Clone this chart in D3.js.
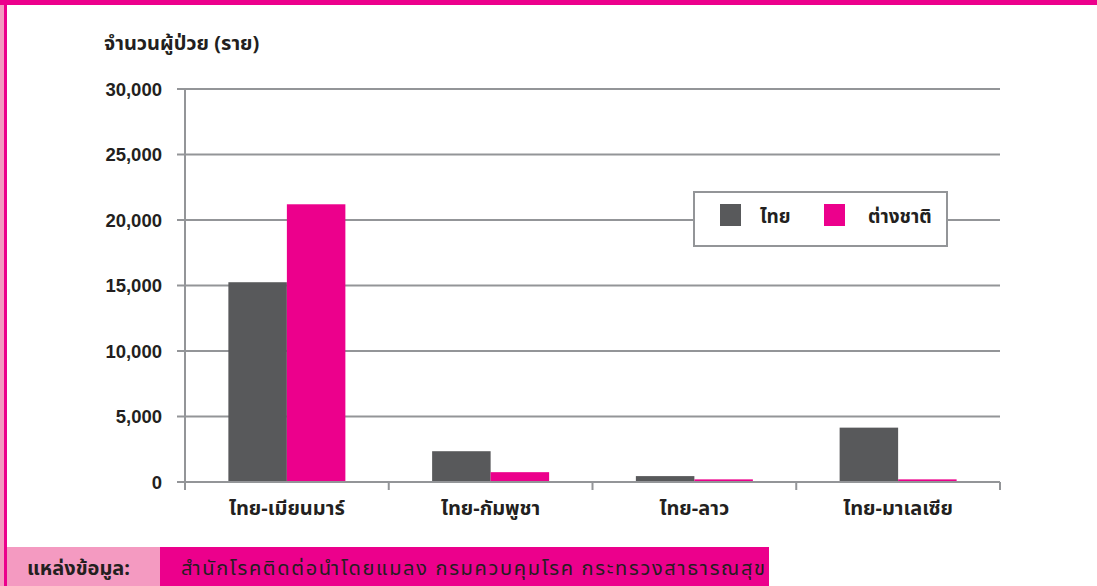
<!DOCTYPE html>
<html>
<head>
<meta charset="utf-8">
<script src="https://cdn.jsdelivr.net/npm/d3@7"></script>
<style>
  html, body { margin: 0; padding: 0; background: #fff; }
  svg { display: block; }
  text { font-family: "Noto Sans Thai", "Noto Sans", "DejaVu Sans", sans-serif; fill: #231f20; }
</style>
</head>
<body>
<script>
// Patients by border area (cases)
const categories = ["ไทย-เมียนมาร์", "ไทย-กัมพูชา", "ไทย-ลาว", "ไทย-มาเลเซีย"];
const seriesNames = ["ไทย", "ต่างชาติ"];
const thaiValues = [15250, 2350, 450, 4150];
const foreignValues = [21200, 750, 200, 200];
const yTicks = [0, 5000, 10000, 15000, 20000, 25000, 30000];
const yTitle = "จำนวนผู้ป่วย (ราย)";
const sourceLabel = "แหล่งข้อมูล:";
const sourceText = "สำนักโรคติดต่อนำโดยแมลง กรมควบคุมโรค กระทรวงสาธารณสุข";

const W = 1097, H = 586;
const MAGENTA = "#ec008c", GREY = "#58595b", GRID = "#939598";
const colors = [GREY, MAGENTA];

const svg = d3.select("body").append("svg").attr("width", W).attr("height", H);

// page frame
svg.append("rect").attr("x", 0).attr("y", 0).attr("width", 4).attr("height", H).attr("fill", "#f49ac1");
svg.append("rect").attr("x", 4).attr("y", 0).attr("width", 3).attr("height", H).attr("fill", MAGENTA);
svg.append("rect").attr("x", 0).attr("y", 0).attr("width", W).attr("height", 5).attr("fill", MAGENTA);

const m = { left: 185, right: 1000, top: 89, bottom: 482 };

const x0 = d3.scaleBand().domain(categories).range([m.left, m.right]).paddingInner(0).paddingOuter(0);
const groupW = 117;
const x1 = d3.scaleBand().domain(seriesNames).range([0, groupW]).padding(0);
const y = d3.scaleLinear().domain([0, 30000]).range([m.bottom, m.top]);

// gridlines + y ticks
const yAxis = d3.axisLeft(y).tickValues(yTicks).tickSize(0).tickFormat(d3.format(","));
const gy = svg.append("g").attr("transform", `translate(${m.left},0)`).call(yAxis);
gy.select(".domain").remove();
gy.selectAll("text").attr("x", -23).attr("dy", "0.35em")
  .style("font-size", "18.5px").style("font-weight", "bold")
  .style("font-family", "Liberation Sans, Arial, sans-serif");
svg.append("g").selectAll("line").data(yTicks).join("line")
  .attr("x1", m.left - 8).attr("x2", m.right)
  .attr("y1", d => y(d)).attr("y2", d => y(d))
  .attr("stroke", GRID).attr("stroke-width", 2);

// bars
const series = [thaiValues, foreignValues];
const g = svg.append("g");
categories.forEach((c, i) => {
  const gx = x0(c) + (x0.bandwidth() - groupW) / 2;
  seriesNames.forEach((s, j) => {
    g.append("rect")
      .attr("x", gx + x1(s))
      .attr("y", y(series[j][i]))
      .attr("width", x1.bandwidth())
      .attr("height", y(0) - y(series[j][i]))
      .attr("fill", colors[j]);
  });
});

// axes lines
svg.append("line").attr("x1", m.left).attr("x2", m.left).attr("y1", m.top).attr("y2", m.bottom + 8)
  .attr("stroke", GRID).attr("stroke-width", 2);
svg.append("line").attr("x1", m.left - 8).attr("x2", m.right).attr("y1", m.bottom).attr("y2", m.bottom)
  .attr("stroke", GRID).attr("stroke-width", 2);
const xb = categories.map(c => x0(c)).concat([m.right]);
svg.append("g").selectAll("line").data(xb).join("line")
  .attr("x1", d => d).attr("x2", d => d).attr("y1", m.bottom).attr("y2", m.bottom + 8)
  .attr("stroke", GRID).attr("stroke-width", 2);

// category labels
svg.append("g").selectAll("text").data(categories).join("text")
  .attr("x", d => x0(d) + x0.bandwidth() / 2).attr("y", 515)
  .attr("text-anchor", "middle")
  .style("font-size", "20px").style("font-weight", "bold")
  .text(d => d);

// y title
svg.append("text").attr("x", 104).attr("y", 50)
  .style("font-size", "20px").style("font-weight", "bold").text(yTitle);

// legend
const lg = svg.append("g");
lg.append("rect").attr("x", 694).attr("y", 192).attr("width", 253).attr("height", 54)
  .attr("fill", "#fff").attr("stroke", GRID).attr("stroke-width", 2);
const legX = [720, 824], legTX = [760, 868];
seriesNames.forEach((s, j) => {
  lg.append("rect").attr("x", legX[j]).attr("y", 204).attr("width", 21).attr("height", 22).attr("fill", colors[j]);
  lg.append("text").attr("x", legTX[j]).attr("y", 223)
    .style("font-size", "19px").style("font-weight", "bold").text(s);
});

// source band
svg.append("rect").attr("x", 7).attr("y", 547).attr("width", 153).attr("height", H - 547).attr("fill", "#f49ac1");
svg.append("rect").attr("x", 160).attr("y", 547).attr("width", 609).attr("height", H - 547).attr("fill", MAGENTA);
svg.append("text").attr("x", 27).attr("y", 575)
  .style("font-size", "20px").style("font-weight", "bold").text(sourceLabel);
svg.append("text").attr("x", 181).attr("y", 575)
  .attr("textLength", 584).attr("lengthAdjust", "spacing")
  .style("font-size", "20px").text(sourceText);
</script>
</body>
</html>
